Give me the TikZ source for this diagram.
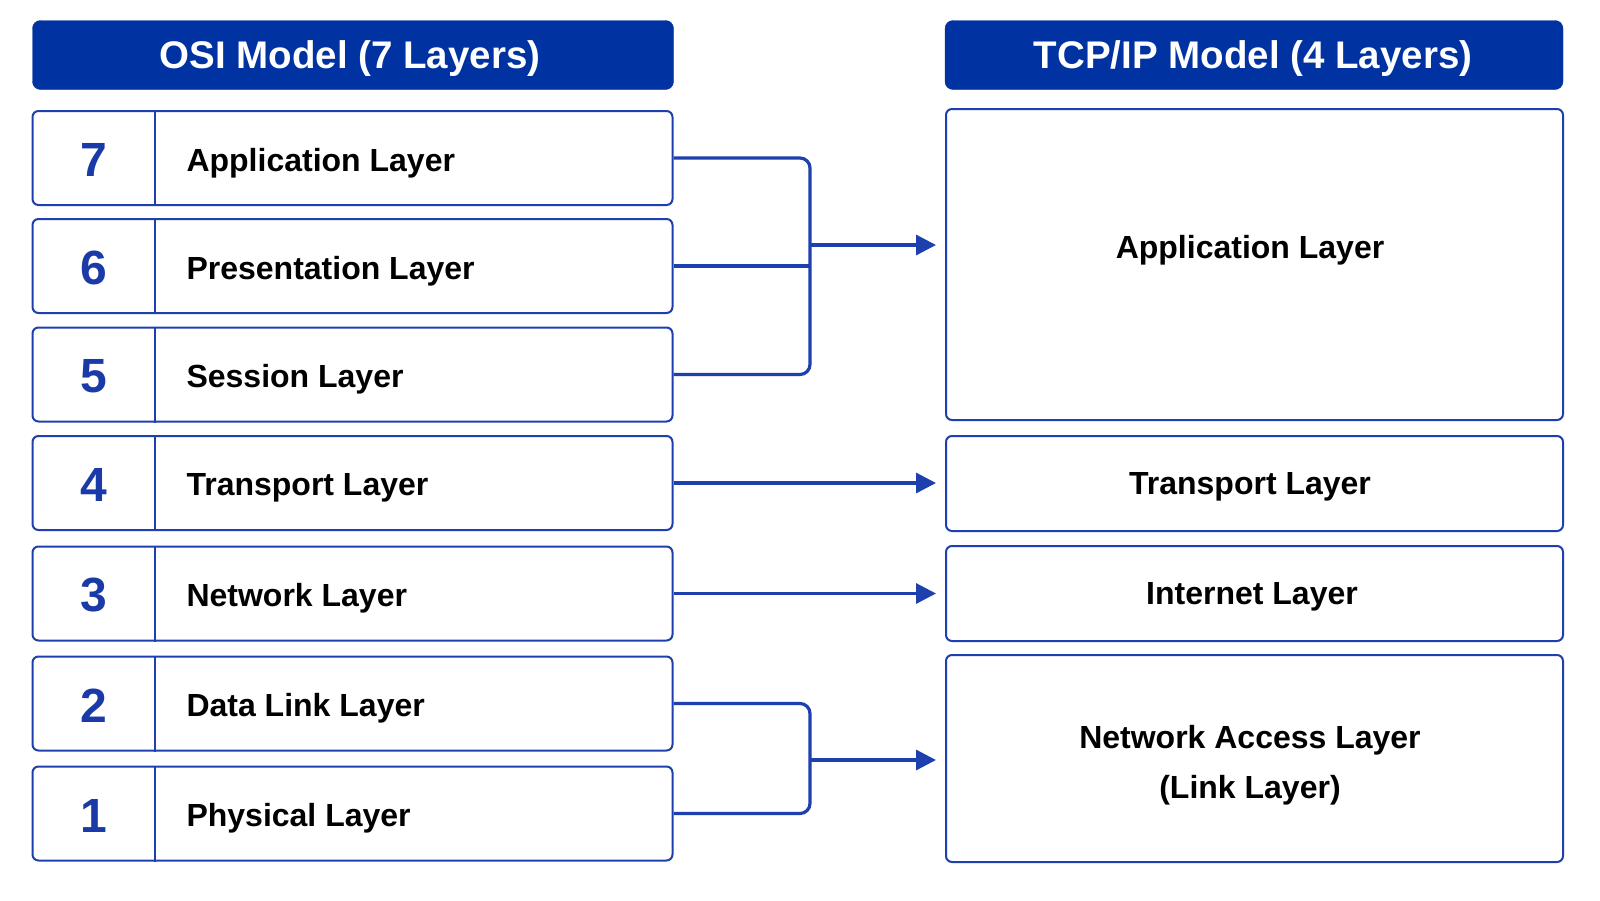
\documentclass[tikz,border=0pt]{standalone}
\usepackage{fontspec}
\setmainfont{Liberation Sans}
\usetikzlibrary{arrows.meta}
\definecolor{hdr}{HTML}{0033A1}
\definecolor{edge}{HTML}{1E3FAE}
\definecolor{numc}{HTML}{1A3AA8}
\tikzset{
  hdrbox/.style={fill=hdr, draw=hdr, rounded corners=8pt, minimum height=69pt, inner sep=0pt},
  hdrtxt/.style={text=white, yshift=-4pt, font=\bfseries\fontsize{38.5}{44}\selectfont},
  osibox/.style={draw=edge, line width=2pt, rounded corners=6pt, minimum width=640pt,
    minimum height=94pt, inner sep=0pt},
  tcpbox/.style={draw=edge, line width=2pt, rounded corners=6pt, minimum width=617pt,
    inner sep=0pt},
  numtxt/.style={text=numc, yshift=-2pt, font=\bfseries\fontsize{48}{54}\selectfont},
  lbltxt/.style={anchor=west, text=black, yshift=-5pt, font=\bfseries\fontsize{32}{38}\selectfont},
  tcptxt/.style={text=black, align=center, yshift=-3pt, font=\bfseries\fontsize{32}{50}\selectfont},
  conn/.style={draw=edge, line width=3.2pt, rounded corners=10pt},
  arr/.style={conn, -{Triangle[length=20pt,width=20pt]}}
}
\begin{document}
\begin{tikzpicture}[x=1pt,y=-1pt]
\useasboundingbox (0,0) rectangle (1600,900);
\fill[white] (0,0) rectangle (1600,900);
% headers
\node[hdrbox, minimum width=641pt] (hosi) at (353,55) {};
\node[hdrtxt] (hosit) at (350,55) {OSI Model (7 Layers)};
\node[hdrbox, minimum width=618pt] (htcp) at (1254,55) {};
\node[hdrtxt] (htcpt) at (1253,55) {TCP/IP Model (4 Layers)};
% OSI rows
\foreach \n/\y/\t in {7/158/Application Layer, 6/266/Presentation Layer, 5/374.5/Session Layer,
  4/483/Transport Layer, 3/593.5/Network Layer, 2/703.5/Data Link Layer, 1/813.5/Physical Layer}{
  \node[osibox] (r\n) at (352.5,\y) {};
  \draw[draw=edge, line width=2pt] (r\n.north west -| 155,0) -- (r\n.south west -| 155,0);
  \node[numtxt] (n\n) at (94,\y) {\n};
  \node[lbltxt] (l\n) at (183,\y) {\t};
}
% TCP boxes
\node[tcpbox, minimum height=311pt] (tapp) at (1254.5,264.5) {};
\node[tcptxt] (tappl) at (1250,247) {Application Layer};
\node[tcpbox, minimum height=95pt] (ttr) at (1254.5,483.5) {};
\node[tcptxt] (ttrl) at (1250,483.5) {Transport Layer};
\node[tcpbox, minimum height=95pt] (tin) at (1254.5,593.5) {};
\node[tcptxt] (tinl) at (1252,593.5) {Internet Layer};
\node[tcpbox, minimum height=207pt] (tna) at (1254.5,758.5) {};
\node[tcptxt] (tnal) at (1250,762) {Network Access Layer\\(Link Layer)};
% connectors
\coordinate (j1) at (810,245);
\coordinate (j2) at (810,760);
\draw[conn] (r7.east) -- (810,158) -- (810,374.5) -- (r5.east);
\draw[conn] (r6.east) -- (r6.east -| j1);
\draw[arr, shorten >=9pt] (j1) -- (j1 -| tapp.west);
\draw[arr, shorten >=9pt] (r4.east) -- (r4.east -| ttr.west);
\draw[arr, shorten >=9pt] (r3.east) -- (r3.east -| tin.west);
\draw[conn] (r2.east) -- (810,703.5) -- (810,813.5) -- (r1.east);
\draw[arr, shorten >=9pt] (j2) -- (j2 -| tna.west);
\end{tikzpicture}
\end{document}
